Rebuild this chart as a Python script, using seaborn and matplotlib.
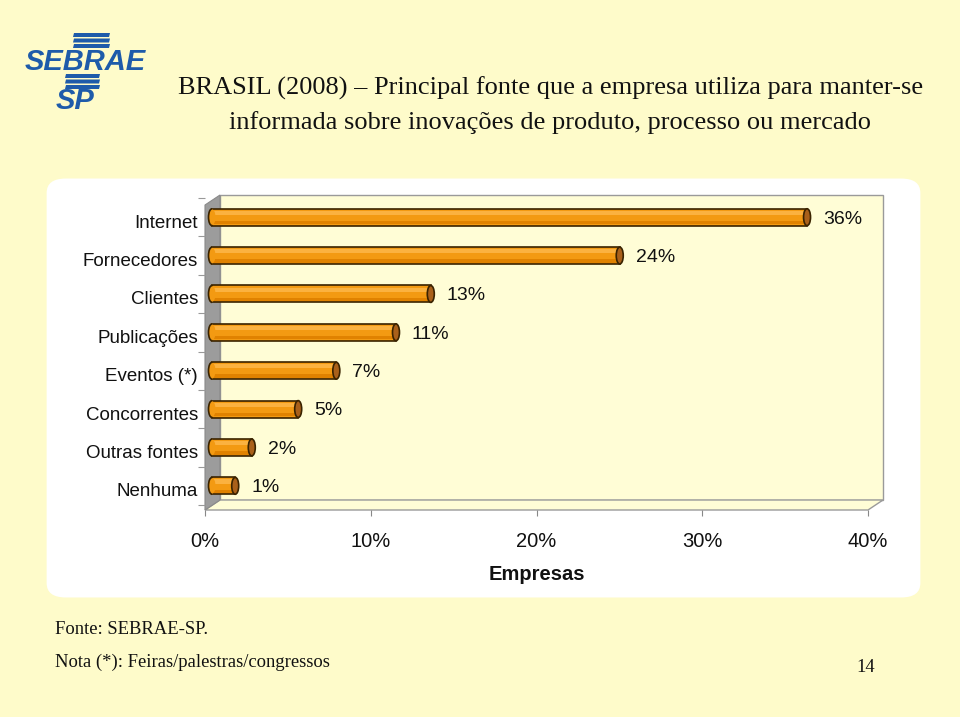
import matplotlib
matplotlib.use("Agg")
import matplotlib.pyplot as plt
import matplotlib.patches as mpatches
from matplotlib.transforms import ScaledTranslation
import seaborn as sns
import pandas as pd

# ---- data ----
categories = ["Internet", "Fornecedores", "Clientes", "Publicações", "Eventos (*)",
              "Concorrentes", "Outras fontes", "Nenhuma"]
values = [35.9, 24.6, 13.2, 11.1, 7.5, 5.2, 2.4, 1.4]
value_labels = ["36%", "24%", "13%", "11%", "7%", "5%", "2%", "1%"]
x_ticks = [0, 10, 20, 30, 40]
x_tick_labels = ["0%", "10%", "20%", "30%", "40%"]

title_line1 = "BRASIL (2008) \u2013 Principal fonte que a empresa utiliza para manter-se"
title_line2 = "informada sobre inovações de produto, processo ou mercado"

W, H = 960, 717
BG = "#FEFBCA"
WALL = "#FFFDD6"
ORANGE = "#F39A12"
CAP = "#A9601A"
EDGE = "#3A2300"

sns.set_theme(style="white")
plt.rcParams["font.family"] = ["Liberation Sans", "DejaVu Sans"]

fig = plt.figure(figsize=(W / 100, H / 100), dpi=100)
fig.patch.set_facecolor(BG)


def fx(px):
    return px / W


def fy(py):
    return 1 - py / H


def poly(points, **kw):
    p = mpatches.Polygon([(fx(x), fy(y)) for x, y in points], closed=True,
                         transform=fig.transFigure, **kw)
    fig.add_artist(p)
    return p


# white rounded panel
panel = mpatches.FancyBboxPatch((fx(62), fy(586)), fx(843), (586 - 190) / H,
                                boxstyle="round,pad=0.016,rounding_size=0.02",
                                transform=fig.transFigure, facecolor="white",
                                edgecolor="none", zorder=0.5)
fig.add_artist(panel)

# 3D walls
poly([(220, 195), (883, 195), (883, 500), (220, 500)], facecolor=WALL,
     edgecolor="#9A9A9A", linewidth=1.0, zorder=1)
poly([(205, 510), (868, 510), (883, 500), (220, 500)], facecolor=WALL,
     edgecolor="#9A9A9A", linewidth=1.0, zorder=1)
poly([(205, 205), (220, 195), (220, 500), (205, 510)], facecolor="#9C9C9C",
     edgecolor="#8A8A8A", linewidth=0.8, zorder=1)

# axes
ax_left, ax_right, ax_top, ax_bottom = 205, 868, 198, 510
ax = fig.add_axes([fx(ax_left), fy(ax_bottom), (ax_right - ax_left) / W,
                   (ax_bottom - ax_top) / H])
ax.set_zorder(2)
ax.patch.set_alpha(0)

df = pd.DataFrame({"cat": categories, "val": values})
sns.barplot(data=df, y="cat", x="val", orient="h", color=ORANGE, width=0.44,
            saturation=1, edgecolor=EDGE, linewidth=1.2, ax=ax)

ax.set_xlim(0, 40)
ax.set_ylim(7.63, -0.5)

offset = ScaledTranslation(7 / 100, 0, fig.dpi_scale_trans)
px_per_unit = (ax_right - ax_left) / 40.0
cap_w = 7 / px_per_unit
for p, v, lab in zip(ax.patches[:len(values)], values, value_labels):
    tr = ax.transData + offset
    p.set_transform(tr)
    z = p.get_zorder()
    y0, h = p.get_y(), p.get_height()
    yc = y0 + h / 2
    # highlight band
    ax.add_patch(mpatches.Rectangle((0, y0 + h * 0.12), v, h * 0.25,
                                    facecolor="#FBB240", edgecolor="none",
                                    transform=tr, zorder=z + 0.1))
    # darker lower band
    ax.add_patch(mpatches.Rectangle((0, y0 + h * 0.72), v, h * 0.2,
                                    facecolor="#E08200", edgecolor="none",
                                    transform=tr, zorder=z + 0.1))
    # left rounded end: fill hides bar's vertical edge, arc draws outline
    ax.add_patch(mpatches.Ellipse((0, yc), cap_w, h * 0.93, facecolor=ORANGE,
                                  edgecolor="none", transform=tr, zorder=z + 0.15))
    ax.add_patch(mpatches.Arc((0, yc), cap_w, h, theta1=90, theta2=270,
                              edgecolor=EDGE, linewidth=1.2, transform=tr,
                              zorder=z + 0.2))
    # right cap
    ax.add_patch(mpatches.Ellipse((v, yc), cap_w, h, facecolor=CAP, edgecolor=EDGE,
                                  linewidth=1.2, transform=tr, zorder=z + 0.3))
    ax.text(v + 23 / px_per_unit, yc + 0.05, lab, ha="left", va="center",
            fontsize=14, color="#111111")

for s in ax.spines.values():
    s.set_visible(False)

ax.set_xticks(x_ticks)
ax.set_xticklabels(x_tick_labels, fontsize=14.5, color="#111111")
ax.tick_params(axis="x", length=4, color="#888888", width=0.8, pad=12, bottom=True)
ax.set_yticks(range(len(categories)))
ax.set_yticklabels(categories, fontsize=13.5, color="#111111")
ax.tick_params(axis="y", length=0, pad=5)
for t in ax.get_yticklabels():
    t.set_transform(t.get_transform() + ScaledTranslation(0, -4 / 100, fig.dpi_scale_trans))
ax.set_yticks([i + 0.5 for i in range(-1, len(categories))], minor=True)
ax.tick_params(axis="y", which="minor", length=5, color="#999999", width=0.8, left=True)
ax.set_ylabel("")
ax.set_xlabel("Empresas", fontsize=14.5, fontweight="bold", labelpad=10, color="#111111")

# title
fig.text(fx(551), fy(88), title_line1, ha="center", va="center", fontsize=19,
         family="Liberation Serif", color="#111111")
fig.text(fx(550), fy(123), title_line2, ha="center", va="center", fontsize=19,
         family="Liberation Serif", color="#111111")

# footnotes
fig.text(fx(55), fy(630), "Fonte: SEBRAE-SP.", ha="left", va="center", fontsize=13.4,
         family="Liberation Serif", color="#111111")
fig.text(fx(55), fy(662), "Nota (*): Feiras/palestras/congressos", ha="left", va="center",
         fontsize=13.4, family="Liberation Serif", color="#111111")
fig.text(fx(866), fy(668), "14", ha="center", va="center", fontsize=13.4,
         family="Liberation Serif", color="#111111")

# logo
BLUE = "#1E5BAA"
for y in (35, 40.5, 46):
    poly([(74, y - 2), (110, y - 2), (109, y + 2), (73, y + 2)], facecolor=BLUE,
         edgecolor="none", zorder=3)
for y in (76, 81.5, 87):
    poly([(66, y - 2), (100, y - 2), (99, y + 2), (65, y + 2)], facecolor=BLUE,
         edgecolor="none", zorder=3)
fig.text(fx(85), fy(62), "SEBRAE", ha="center", va="center", fontsize=21,
         fontweight="bold", fontstyle="italic", color=BLUE)
fig.text(fx(75), fy(101), "SP", ha="center", va="center", fontsize=21,
         fontweight="bold", fontstyle="italic", color=BLUE)

fig.savefig("out.png", dpi=100, facecolor=BG)
